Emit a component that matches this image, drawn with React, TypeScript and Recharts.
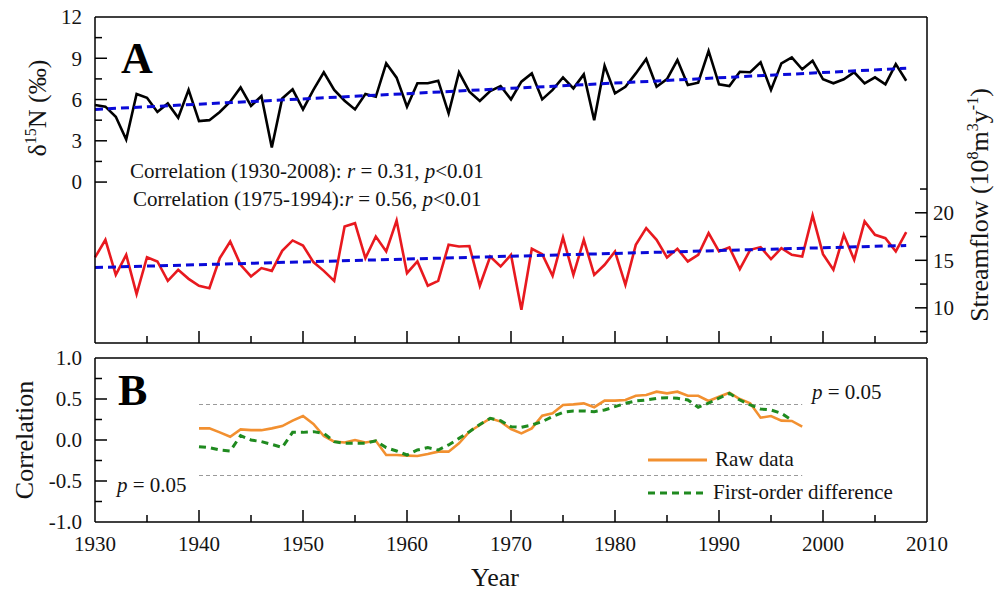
import { ComposedChart, Line, XAxis, YAxis, ReferenceLine, Legend } from 'recharts';

const SERIF = '"Liberation Serif", "Times New Roman", serif';
const INK = '#141414';
const RED = '#e8191f';
const BLUE = '#0a0ad8';
const ORANGE = '#f29030';
const GREEN = '#1f8a1f';

// panel A: yearly values 1930-2008
const START_YEAR = 1930;
const D15N = [
  5.6, 5.48, 4.75, 3.1, 6.4, 6.13, 5.1, 5.72, 4.68, 6.7,
  4.43, 4.5, 5.1, 5.84, 6.88, 5.53, 6.25, 2.52, 6.08, 6.74,
  5.28, 6.7, 7.98, 6.7, 5.91, 5.28, 6.4, 6.2, 8.63, 7.59,
  5.48, 7.18, 7.18, 7.37, 5.0, 7.98, 6.57, 5.89, 6.62, 6.98,
  6.01, 7.3, 7.9, 6.01, 6.7, 7.61, 6.81, 7.83, 4.5, 8.46,
  6.45, 6.93, 7.9, 8.95, 6.93, 7.49, 8.87, 7.05, 7.22, 9.53,
  7.1, 6.98, 8.02, 7.98, 8.7, 6.7, 8.63, 9.07, 8.2, 8.82,
  7.47, 7.18, 7.47, 7.98, 7.18, 7.61, 7.1, 8.58, 7.37,
];
const FLOW = [
  15.3, 17.16, 13.47, 15.58, 11.44, 15.33, 14.88, 12.84, 14.0, 13.05,
  12.32, 12.07, 15.23, 16.98, 14.53, 13.3, 14.18, 13.89, 16.0, 17.09,
  16.56, 14.81, 13.89, 12.84, 18.56, 18.91, 15.23, 17.51, 15.93, 19.19,
  13.65, 14.88, 12.32, 12.84, 16.63, 16.46, 16.5, 12.32, 15.4, 14.35,
  15.58, 9.79, 16.21, 15.65, 13.37, 17.4, 13.47, 17.16, 13.47, 14.53,
  15.93, 12.42, 16.63, 18.39, 17.16, 15.3, 16.21, 14.88, 15.58, 17.86,
  15.93, 16.35, 14.07, 16.1, 16.39, 15.12, 16.28, 15.58, 15.4, 19.72,
  15.65, 14.0, 17.68, 15.05, 19.09, 17.68, 17.33, 15.93, 17.96,
];
// trend line end points
const D15N_TREND = [
  { year: 1930, v: 5.28 },
  { year: 2008, v: 8.27 },
];
const FLOW_TREND = [
  { year: 1930, v: 14.24 },
  { year: 2008, v: 16.56 },
];

// panel B: moving correlation, starting 1940
const CORR_START = 1940;
const RAW_CORR = [
  0.142, 0.142, 0.093, 0.04, 0.13, 0.12, 0.12, 0.142, 0.17, 0.236,
  0.293, 0.195, 0.049, -0.02, -0.03, 0.0, -0.03, -0.01, -0.183, -0.183,
  -0.19, -0.195, -0.17, -0.142, -0.142, -0.04, 0.102, 0.183, 0.264, 0.224,
  0.134, 0.081, 0.142, 0.297, 0.325, 0.427, 0.435, 0.447, 0.4, 0.48,
  0.48, 0.488, 0.54, 0.549, 0.589, 0.569, 0.589, 0.54, 0.54, 0.476,
  0.528, 0.577, 0.5, 0.447, 0.272, 0.293, 0.236, 0.232, 0.163,
];
const DIFF_CORR = [
  -0.081, -0.093, -0.122, -0.134, 0.053, 0.0, -0.02, -0.053, -0.09, 0.093,
  0.093, 0.102, 0.081, -0.02, -0.04, -0.04, -0.04, -0.01, -0.093, -0.134,
  -0.183, -0.122, -0.093, -0.122, -0.06, 0.02, 0.102, 0.19, 0.264, 0.236,
  0.163, 0.155, 0.183, 0.224, 0.285, 0.337, 0.354, 0.354, 0.346, 0.366,
  0.407, 0.447, 0.476, 0.488, 0.508, 0.516, 0.508, 0.488, 0.4, 0.45,
  0.51, 0.569, 0.488, 0.427, 0.378, 0.366, 0.325, 0.244,
];
const P05 = 0.433;
const P05_RANGE = [1940, 1998];

const X_TICKS = [1930, 1935, 1940, 1945, 1950, 1955, 1960, 1965, 1970, 1975, 1980, 1985, 1990, 1995, 2000, 2005, 2010];
const D15N_TICKS = [0, 1.5, 3, 4.5, 6, 7.5, 9, 10.5, 12];
const FLOW_TICKS = [7.5, 10, 12.5, 15, 17.5, 20, 22.5];
const CORR_TICKS = [-1, -0.75, -0.5, -0.25, 0, 0.25, 0.5, 0.75, 1];

const toSeries = (vals: number[], start: number) => vals.map((v, i) => ({ year: start + i, v }));
const d15nData = toSeries(D15N, START_YEAR);
const flowData = toSeries(FLOW, START_YEAR);
const rawData = toSeries(RAW_CORR, CORR_START);
const diffData = toSeries(DIFF_CORR, CORR_START);

const isMultiple = (v: number, step: number) => Math.abs(v / step - Math.round(v / step)) < 1e-6;

function BottomTick(props: any) {
  const { x, y, payload, labels } = props;
  const v = payload.value as number;
  const major = v % 10 === 0;
  const edge = v === 1930 || v === 2010;
  return (
    <g>
      {!edge && <line x1={x} x2={x} y1={y} y2={y - (major ? 12 : 7)} stroke="#000" strokeWidth={1.5} />}
      {labels && major && (
        <text x={x} y={y + 29} textAnchor="middle" fontFamily={SERIF} fontSize={21} fill={INK}>
          {v}
        </text>
      )}
    </g>
  );
}

function LeftTick(props: any) {
  const { x, y, payload, step, digits, noLine } = props;
  const v = payload.value as number;
  const major = isMultiple(v, step);
  return (
    <g>
      {!noLine.includes(v) && <line x1={x} x2={x + (major ? 12 : 7)} y1={y} y2={y} stroke="#000" strokeWidth={1.5} />}
      {major && (
        <text x={x - 13} y={y} dy="0.35em" textAnchor="end" fontFamily={SERIF} fontSize={21} fill={INK}>
          {v.toFixed(digits)}
        </text>
      )}
    </g>
  );
}

function RightTick(props: any) {
  const { x, y, payload } = props;
  const v = payload.value as number;
  const major = isMultiple(v, 5);
  return (
    <g>
      <line x1={x} x2={x - (major ? 12 : 7)} y1={y} y2={y} stroke="#000" strokeWidth={1.5} />
      {major && (
        <text x={x + 6} y={y} dy="0.35em" textAnchor="start" fontFamily={SERIF} fontSize={21} fill={INK}>
          {v}
        </text>
      )}
    </g>
  );
}

function CorrLegend() {
  return (
    <div style={{ fontFamily: SERIF, fontSize: 21, color: INK, lineHeight: 1 }}>
      <div style={{ display: 'flex', alignItems: 'center', height: 33 }}>
        <svg width={64} height={10}>
          <line x1={3} x2={62} y1={5} y2={5} stroke={ORANGE} strokeWidth={3} />
        </svg>
        <span style={{ marginLeft: 6 }}>Raw data</span>
      </div>
      <div style={{ display: 'flex', alignItems: 'center', height: 33 }}>
        <svg width={64} height={10}>
          <line x1={3} x2={62} y1={5} y2={5} stroke={GREEN} strokeWidth={3} strokeDasharray="7 5" />
        </svg>
        <span style={{ marginLeft: 4 }}>First-order difference</span>
      </div>
    </div>
  );
}

export default function App() {
  return (
    <div style={{ position: 'absolute', left: 0, top: 0, width: 1000, height: 595, background: '#fff' }}>
      <div style={{ position: 'absolute', left: 0, top: 0 }}>
        <ComposedChart width={1000} height={350} margin={{ top: 17, right: 0, bottom: 0, left: 0 }}>
          <XAxis
            xAxisId="b"
            type="number"
            dataKey="year"
            domain={[1930, 2010]}
            ticks={X_TICKS}
            interval={0}
            height={7}
            tickSize={0}
            tickMargin={0}
            tickLine={false}
            axisLine={{ stroke: '#000', strokeWidth: 1.5 }}
            tick={<BottomTick labels={false} />}
          />
          <YAxis
            yAxisId="l"
            type="number"
            domain={[-11.7, 12]}
            allowDataOverflow
            ticks={D15N_TICKS}
            interval={0}
            width={95}
            tickSize={0}
            tickMargin={0}
            tickLine={false}
            axisLine={{ stroke: '#000', strokeWidth: 1.5 }}
            tick={<LeftTick step={3} digits={0} noLine={[12]} />}
          />
          <YAxis
            yAxisId="r"
            orientation="right"
            type="number"
            domain={[6.3, 40.6]}
            allowDataOverflow
            ticks={FLOW_TICKS}
            interval={0}
            width={73}
            tickSize={0}
            tickMargin={0}
            tickLine={false}
            axisLine={{ stroke: '#000', strokeWidth: 1.5 }}
            tick={<RightTick />}
          />
          <ReferenceLine xAxisId="b" yAxisId="l" y={12} stroke="#000" strokeWidth={1.5} />
          <Line xAxisId="b" yAxisId="l" data={d15nData} dataKey="v" type="linear" stroke="#000" strokeWidth={2.6} dot={false} isAnimationActive={false} />
          <Line xAxisId="b" yAxisId="r" data={flowData} dataKey="v" type="linear" stroke={RED} strokeWidth={2.6} dot={false} isAnimationActive={false} />
          <Line xAxisId="b" yAxisId="l" data={D15N_TREND} dataKey="v" type="linear" stroke={BLUE} strokeWidth={3} strokeDasharray="8 5" dot={false} isAnimationActive={false} />
          <Line xAxisId="b" yAxisId="r" data={FLOW_TREND} dataKey="v" type="linear" stroke={BLUE} strokeWidth={3} strokeDasharray="8 5" dot={false} isAnimationActive={false} />

          <text x={121} y={73} fontFamily={SERIF} fontSize={44} fontWeight="bold" fill="#000">A</text>
          <text x={130} y={178} fontFamily={SERIF} fontSize={21} fill={INK}>
            {'Correlation (1930-2008): '}
            <tspan fontStyle="italic">r</tspan>
            {' = 0.31, '}
            <tspan fontStyle="italic">p</tspan>
            {'<0.01'}
          </text>
          <text x={133} y={206} fontFamily={SERIF} fontSize={21} fill={INK}>
            {'Correlation (1975-1994):'}
            <tspan fontStyle="italic">r</tspan>
            {' = 0.56, '}
            <tspan fontStyle="italic">p</tspan>
            {'<0.01'}
          </text>
          <text transform="translate(46,108) rotate(-90)" textAnchor="middle" fontFamily={SERIF} fontSize={26} fill={INK}>
            δ
            <tspan dy={-10} fontSize={16}>15</tspan>
            <tspan dy={10}>N (‰)</tspan>
          </text>
          <text transform="translate(988,205) rotate(-90)" textAnchor="middle" fontFamily={SERIF} fontSize={26} fill={INK}>
            {'Streamflow (10'}
            <tspan dy={-10} fontSize={16}>8</tspan>
            <tspan dy={10}>m</tspan>
            <tspan dy={-10} fontSize={16}>3</tspan>
            <tspan dy={10}>y</tspan>
            <tspan dy={-10} fontSize={16}>-1</tspan>
            <tspan dy={10}>)</tspan>
          </text>
        </ComposedChart>
      </div>

      <div style={{ position: 'absolute', left: 0, top: 340 }}>
        <ComposedChart width={1000} height={255} margin={{ top: 18, right: 0, bottom: 0, left: 0 }}>
          <XAxis
            xAxisId="b"
            type="number"
            dataKey="year"
            domain={[1930, 2010]}
            ticks={X_TICKS}
            interval={0}
            height={73}
            tickSize={0}
            tickMargin={0}
            tickLine={false}
            axisLine={{ stroke: '#000', strokeWidth: 1.5 }}
            tick={<BottomTick labels />}
          />
          <YAxis
            yAxisId="l"
            type="number"
            domain={[-1, 1]}
            allowDataOverflow
            ticks={CORR_TICKS}
            interval={0}
            width={95}
            tickSize={0}
            tickMargin={0}
            tickLine={false}
            axisLine={{ stroke: '#000', strokeWidth: 1.5 }}
            tick={<LeftTick step={0.5} digits={1} noLine={[-1, 1]} />}
          />
          <YAxis
            yAxisId="r"
            orientation="right"
            type="number"
            domain={[-1, 1]}
            width={73}
            tick={false}
            tickLine={false}
            axisLine={{ stroke: '#000', strokeWidth: 1.5 }}
          />
          <ReferenceLine xAxisId="b" yAxisId="l" y={1} stroke="#000" strokeWidth={1.5} />
          <ReferenceLine
            xAxisId="b"
            yAxisId="l"
            segment={[{ x: P05_RANGE[0], y: P05 }, { x: P05_RANGE[1], y: P05 }]}
            stroke="#9a9a9a"
            strokeWidth={1.2}
            strokeDasharray="4 3"
          />
          <ReferenceLine
            xAxisId="b"
            yAxisId="l"
            segment={[{ x: P05_RANGE[0], y: -P05 }, { x: P05_RANGE[1], y: -P05 }]}
            stroke="#9a9a9a"
            strokeWidth={1.2}
            strokeDasharray="4 3"
          />
          <Line xAxisId="b" yAxisId="l" data={rawData} dataKey="v" name="Raw data" type="linear" stroke={ORANGE} strokeWidth={2.6} dot={false} isAnimationActive={false} />
          <Line xAxisId="b" yAxisId="l" data={diffData} dataKey="v" name="First-order difference" type="linear" stroke={GREEN} strokeWidth={3} strokeDasharray="7 5" dot={false} isAnimationActive={false} />
          <Legend
            layout="vertical"
            align="center"
            verticalAlign="middle"
            content={<CorrLegend />}
            wrapperStyle={{ left: 645, top: 103, width: 280 }}
          />

          <text x={118} y={65} fontFamily={SERIF} fontSize={44} fontWeight="bold" fill="#000">B</text>
          <text x={812} y={59} fontFamily={SERIF} fontSize={21} fill={INK}>
            <tspan fontStyle="italic">p</tspan>
            {' = 0.05'}
          </text>
          <text x={117} y={152} fontFamily={SERIF} fontSize={21} fill={INK}>
            <tspan fontStyle="italic">p</tspan>
            {' = 0.05'}
          </text>
          <text transform="translate(33,100) rotate(-90)" textAnchor="middle" fontFamily={SERIF} fontSize={26} fill={INK}>
            Correlation
          </text>
          <text x={495} y={246} textAnchor="middle" fontFamily={SERIF} fontSize={26} fill={INK}>
            Year
          </text>
        </ComposedChart>
      </div>
    </div>
  );
}
